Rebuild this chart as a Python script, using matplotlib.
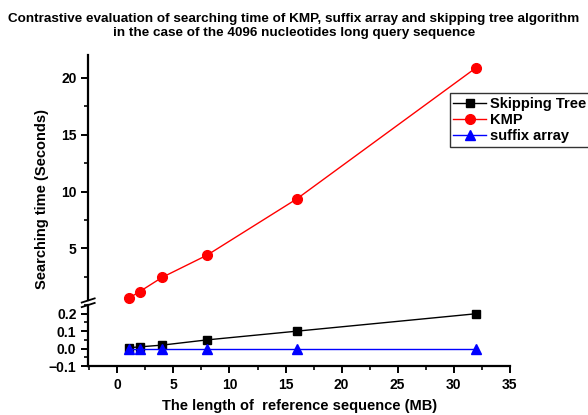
import matplotlib
matplotlib.use("Agg")
import matplotlib.pyplot as plt
from matplotlib.ticker import MultipleLocator

plt.rcParams['font.family'] = ['Liberation Sans', 'DejaVu Sans']
plt.rcParams['font.weight'] = 'bold'

sizes = [1, 2, 4, 8, 16, 32]
skipping_tree = [0.005, 0.01, 0.02, 0.05, 0.1, 0.2]
kmp = [0.6, 1.2, 2.45, 4.4, 9.35, 20.9]
suffix_array = [0, 0, 0, 0, 0, 0]

fig = plt.figure(figsize=(5.88, 4.15), dpi=100)
ax_top = fig.add_axes([0.150, 0.277, 0.717, 0.590])
ax_bot = fig.add_axes([0.150, 0.118, 0.717, 0.147])

# the upper panel only holds KMP, the lower one the two fast methods
h1, = ax_bot.plot(sizes, skipping_tree, color='black', marker='s', ms=6, lw=1, label='Skipping Tree')
h2, = ax_top.plot(sizes, kmp, color='red', marker='o', ms=7, lw=1, label='KMP', clip_on=False)
h3, = ax_bot.plot(sizes, suffix_array, color='blue', marker='^', ms=7, lw=1, label='suffix array')

for ax in (ax_top, ax_bot):
    ax.set_xlim(-2.6, 35)
    for s in ('top', 'right'):
        ax.spines[s].set_visible(False)
    ax.spines['left'].set_linewidth(1.6)
    ax.spines['bottom'].set_linewidth(1.6)
    ax.tick_params(which='major', direction='out', length=5, width=1.4, labelsize=10)
    ax.tick_params(which='minor', direction='out', length=3, width=1.2)
    ax.patch.set_alpha(0)

ax_top.set_ylim(0.45, 22)
ax_top.set_yticks([5, 10, 15, 20])
ax_top.yaxis.set_minor_locator(MultipleLocator(2.5))
ax_top.spines['bottom'].set_visible(False)
ax_top.tick_params(axis='x', which='both', bottom=False, labelbottom=False)

ax_bot.set_ylim(-0.1, 0.25)
ax_bot.set_yticks([-0.1, 0.0, 0.1, 0.2])
ax_bot.yaxis.set_minor_locator(MultipleLocator(0.05))
ax_bot.xaxis.set_major_locator(MultipleLocator(5))
ax_bot.xaxis.set_minor_locator(MultipleLocator(2.5))

for ax in (ax_top, ax_bot):
    for lab in ax.get_xticklabels() + ax.get_yticklabels():
        lab.set_fontweight('bold')

# break marks on the y axis
x0 = 0.150
for y in (0.276, 0.265):
    fig.add_artist(plt.Line2D([x0 - 0.011, x0 + 0.011], [y - 0.005, y + 0.005],
                              transform=fig.transFigure, color='black', lw=1.3))

fig.legend(handles=[h1, h2, h3], loc='upper left', bbox_to_anchor=(0.765, 0.776),
           frameon=True, fancybox=False, edgecolor='black', handlelength=2.2,
           borderpad=0.25, labelspacing=0.15, handletextpad=0.3, borderaxespad=0,
           prop={'weight': 'bold', 'size': 10.5}).get_frame().set_linewidth(1.0)

fig.text(0.5, 0.968, 'Contrastive evaluation of searching time of KMP, suffix array and skipping tree algorithm\n'
         'in the case of the 4096 nucleotides long query sequence',
         ha='center', va='top', fontsize=9.7, fontweight='bold', linespacing=1.2)
fig.text(0.072, 0.52, 'Searching time (Seconds)', rotation=90, ha='center', va='center',
         fontsize=10.5, fontweight='bold')
fig.text(0.51, 0.004, 'The length of  reference sequence (MB)', ha='center', va='bottom',
         fontsize=10.5, fontweight='bold')

fig.savefig('out.png', dpi=100)
